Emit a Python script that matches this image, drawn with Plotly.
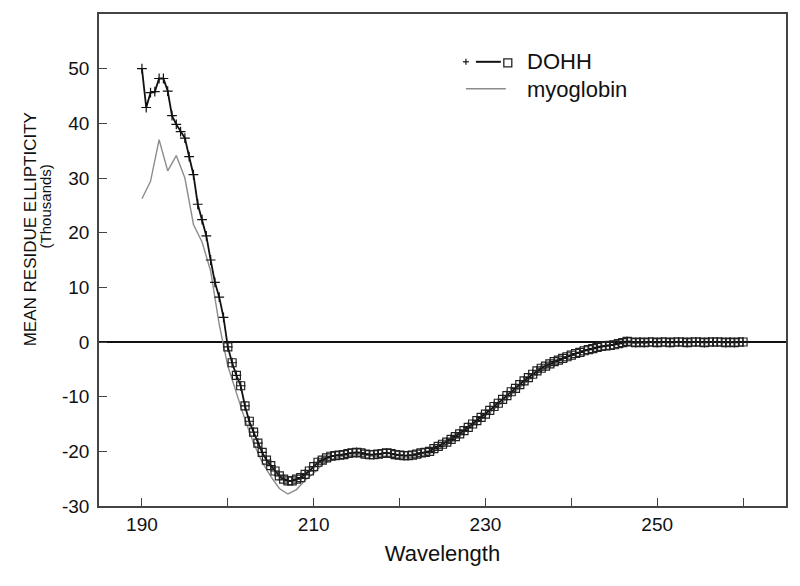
import plotly.graph_objects as go

# ---------------- data ----------------
dohh_wavelength = [190.0 + 0.5 * i for i in range(141)]
dohh_values = [
    50.0, 42.9, 45.6, 45.8, 48.2, 48.2, 45.9, 41.4, 39.8, 38.5,   # 190.0-194.5
    37.3, 33.9, 30.6, 25.2, 22.4, 19.4, 15.0, 10.9, 8.2, 4.5,     # 195.0-199.5
    -0.9, -3.8, -6.1, -8.0, -11.7, -14.5, -16.5, -18.5, -20.2, -21.6,  # 200.0-204.5
    -22.6, -23.6, -24.5, -25.1, -25.4, -25.4, -25.1, -24.8, -24.2, -23.6,  # 205.0-209.5
    -22.8, -22.0, -21.6, -21.2, -20.9, -20.8, -20.7, -20.6, -20.4, -20.3,  # 210.0-214.5
    -20.2, -20.3, -20.5, -20.6, -20.6, -20.5, -20.4, -20.3, -20.4, -20.6,  # 215.0-219.5
    -20.7, -20.8, -20.8, -20.7, -20.5, -20.3, -20.2, -20.0, -19.5, -19.1,  # 220.0-224.5
    -18.7, -18.3, -17.8, -17.3, -16.8, -16.2, -15.6, -15.0, -14.4, -13.8,  # 225.0-229.5
    -13.2, -12.5, -11.8, -11.2, -10.5, -9.8, -9.1, -8.5, -7.8, -7.1,       # 230.0-234.5
    -6.5, -5.9, -5.3, -4.8, -4.4, -4.0, -3.6, -3.3, -3.0, -2.7,            # 235.0-239.5
    -2.4, -2.1, -1.9, -1.6, -1.4, -1.2, -1.0, -0.8, -0.7, -0.6,            # 240.0-244.5
    -0.5, -0.3, -0.1, 0.1, 0.0, -0.1, 0.0, -0.1, 0.0, 0.0,                 # 245.0-249.5
    -0.1, 0.0, 0.0, -0.1, 0.0, 0.0, 0.0, -0.1, 0.0, 0.0,                   # 250.0-254.5
    0.0, -0.1, 0.0, 0.0, 0.0, 0.0, -0.1, 0.0, -0.1, 0.0,                   # 255.0-259.5
    0.0,                                                                    # 260.0
]
square_start = 200.0

myo_wavelength = list(range(190, 261))
myo_values = [
    26.2, 29.4, 37.0, 31.3, 34.1, 30.0, 21.5, 18.3, 13.0, 3.2,   # 190-199
    -4.4, -9.4, -14.2, -18.5, -22.0, -24.6, -26.8, -27.8, -27.0, -25.3,  # 200-209
    -24.0, -22.4, -21.5, -21.0, -20.8, -20.6, -20.7, -20.9, -20.9, -20.9,  # 210-219
    -21.2, -21.2, -21.0, -20.6, -20.0, -19.2, -18.3, -17.2, -16.0, -14.8,  # 220-229
    -13.6, -12.3, -11.0, -9.6, -8.3, -7.0, -5.8, -4.8, -3.9, -3.1,         # 230-239
    -2.4, -1.8, -1.3, -0.9, -0.6, -0.4, -0.2, -0.1, -0.1, -0.1,            # 240-249
    -0.1, 0.0, -0.1, 0.0, 0.0, -0.1, 0.0, 0.0, -0.1, 0.0, 0.0,             # 250-260
]

x_tick_values = [190, 200, 210, 220, 230, 240, 250, 260]
x_tick_labels = ["190", "", "210", "", "230", "", "250", ""]
y_tick_values = [-30, -20, -10, 0, 10, 20, 30, 40, 50]
y_tick_labels = ["-30", "-20", "-10", "0", "10", "20", "30", "40", "50"]

# ---------------- figure ----------------
FONT = "Liberation Sans, Arial, sans-serif"
AXIS_COLOR = "#444444"

sq_x = [w for w in dohh_wavelength if w >= square_start]
sq_y = [v for w, v in zip(dohh_wavelength, dohh_values) if w >= square_start]

fig = go.Figure()
fig.add_trace(go.Scatter(
    x=myo_wavelength, y=myo_values, mode="lines",
    line=dict(color="#8c8c8c", width=1.4), name="myoglobin", showlegend=False,
))
fig.add_trace(go.Scatter(
    x=dohh_wavelength, y=dohh_values, mode="lines+markers",
    line=dict(color="#111111", width=1.8),
    marker=dict(symbol="cross-thin", size=7, line=dict(color="#111111", width=1.2)),
    name="DOHH", showlegend=False,
))
fig.add_trace(go.Scatter(
    x=sq_x, y=sq_y, mode="markers",
    marker=dict(symbol="square-open", size=8, color="#222222", line=dict(width=1.2)),
    name="DOHH squares", showlegend=False,
))

L, R, T, B = 99, 12, 12, 80
W, H = 800, 586
pw, ph = W - L - R, H - T - B


def px(x):
    return (x - L) / pw


def py(y):
    return (H - B - y) / ph


shapes = [
    # DOHH legend symbol: plus, line, square
    dict(type="line", xref="paper", yref="paper", x0=px(464), x1=px(470), y0=py(60), y1=py(60),
         line=dict(color="#111111", width=1.2)),
    dict(type="line", xref="paper", yref="paper", x0=px(467), x1=px(467), y0=py(57), y1=py(63),
         line=dict(color="#111111", width=1.2)),
    dict(type="line", xref="paper", yref="paper", x0=px(477), x1=px(502), y0=py(60), y1=py(60),
         line=dict(color="#111111", width=2)),
    dict(type="rect", xref="paper", yref="paper", x0=px(505), x1=px(513), y0=py(57), y1=py(65),
         line=dict(color="#222222", width=1.3)),
    # myoglobin legend line
    dict(type="line", xref="paper", yref="paper", x0=px(467), x1=px(507), y0=py(87), y1=py(87),
         line=dict(color="#8c8c8c", width=1.4)),
]

annotations = [
    dict(text="DOHH", xref="paper", yref="paper", x=px(526), y=py(60), xanchor="left",
         yanchor="middle", showarrow=False, font=dict(family=FONT, size=22, color="#111111")),
    dict(text="myoglobin", xref="paper", yref="paper", x=px(526), y=py(88), xanchor="left",
         yanchor="middle", showarrow=False, font=dict(family=FONT, size=22, color="#111111")),
    dict(text="MEAN RESIDUE ELLIPTICITY", xref="paper", yref="paper", x=px(30), y=py(228),
         xanchor="center", yanchor="middle", textangle=-90, showarrow=False,
         font=dict(family=FONT, size=17, color="#111111")),
    dict(text="(Thousands)", xref="paper", yref="paper", x=px(45), y=py(205),
         xanchor="center", yanchor="middle", textangle=-90, showarrow=False,
         font=dict(family=FONT, size=15, color="#111111")),
]

fig.update_layout(
    width=W, height=H, autosize=False,
    margin=dict(l=L, r=R, t=T, b=B),
    paper_bgcolor="white", plot_bgcolor="white",
    font=dict(family=FONT, color="#111111"),
    shapes=shapes, annotations=annotations,
    showlegend=False,
)
fig.update_xaxes(
    range=[185, 265], tickvals=x_tick_values, ticktext=x_tick_labels,
    ticks="inside", ticklen=8, tickwidth=1.3, tickcolor=AXIS_COLOR,
    showline=True, linecolor=AXIS_COLOR, linewidth=1.6, mirror=True,
    showgrid=False, zeroline=False,
    tickfont=dict(family=FONT, size=19, color="#111111"),
    title=dict(text="Wavelength", font=dict(family=FONT, size=22, color="#111111"), standoff=12),
)
fig.update_yaxes(
    range=[-30, 60], tickvals=y_tick_values, ticktext=y_tick_labels,
    ticks="inside", ticklen=8, tickwidth=1.3, tickcolor=AXIS_COLOR,
    showline=True, linecolor=AXIS_COLOR, linewidth=1.6, mirror=True,
    showgrid=False, zeroline=True, zerolinecolor="#111111", zerolinewidth=1.6,
    tickfont=dict(family=FONT, size=19, color="#111111"),
    ticklabelstandoff=4,
)

fig.write_html(
    "out.html",
    config={"displayModeBar": False},
    post_script="document.body.style.margin='0px';document.body.style.overflow='hidden';",
)
